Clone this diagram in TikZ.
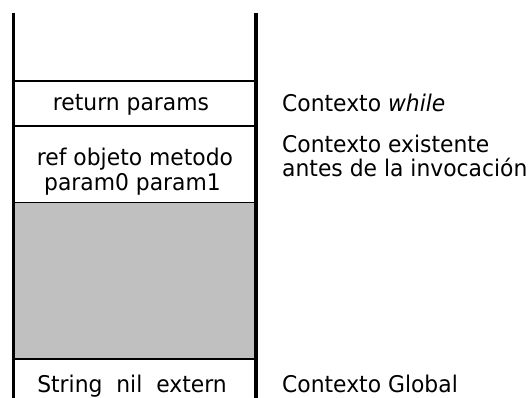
\documentclass[tikz,border=0pt]{standalone}
\usepackage{fontspec}
\setmainfont{DejaVu Sans}[FakeStretch=0.95]
\definecolor{cellgray}{RGB}{192,192,192}
\begin{document}
\begin{tikzpicture}[x=1pt,y=-1pt,
  wall/.style={line width=3.6pt},
  sep/.style={line width=1.5pt},
  lbl/.style={font=\fontsize{23}{25}\selectfont, inner sep=0pt, anchor=base},
  side/.style={lbl, anchor=base west}]
\useasboundingbox (0,0) rectangle (530,398);
% stack frame
\coordinate (tl) at (13.5,13);
\coordinate (bl) at (13.5,398);
\coordinate (tr) at (256,13);
\coordinate (br) at (256,398);
\fill[cellgray] (13.5,202.5) rectangle (256,359);
\draw[sep] (13.5,81) -- (256,81);
\draw[sep] (13.5,126) -- (256,126);
\draw[sep] (13.5,202.5) -- (256,202.5);
\draw[sep] (13.5,359) -- (256,359);
\draw[wall] (tl) -- (bl);
\draw[wall] (tr) -- (br);
% stack texts
\node[lbl] (ret) at (131,111) {return params};
\node[lbl] (ref) at (135,166) {ref objeto metodo};
\node[lbl] (par) at (132.5,191) {param0 param1};
\node[lbl] (glob) at (132,392.5) {String\ \ nil\ \ extern};
% side labels
\node[side] (cw) at (282,112) {Contexto \textit{while}};
\node[side] (ce) at (282,153) {Contexto existente};
\node[side] (ca) at (282,177) {antes de la invocación};
\node[side] (cg) at (282,392.5) {Contexto Global};
\end{tikzpicture}
\end{document}
